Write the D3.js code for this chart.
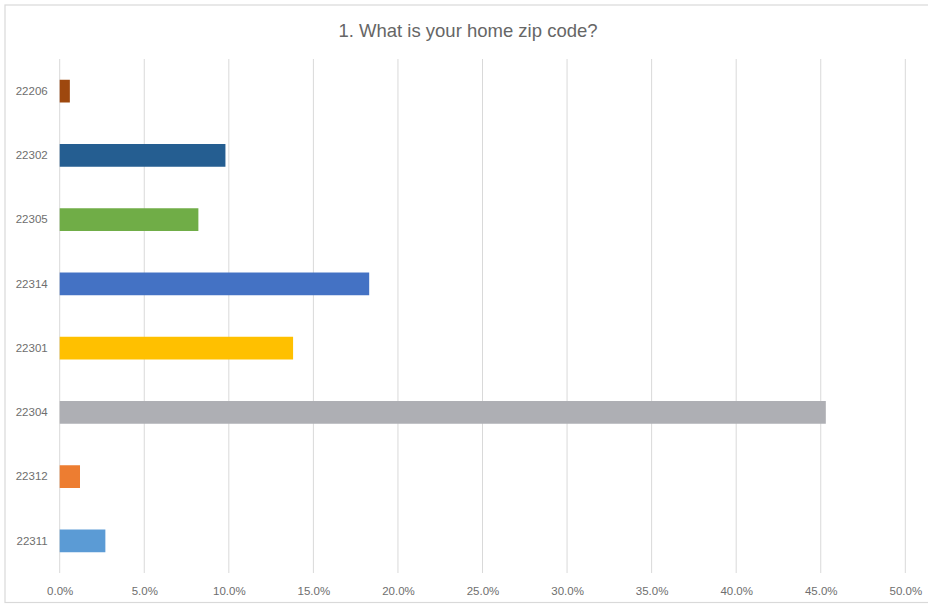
<!DOCTYPE html>
<html>
<head>
<meta charset="utf-8">
<script src="https://cdn.jsdelivr.net/npm/d3@7"></script>
<style>
  html, body { margin: 0; padding: 0; background: #fff; }
  svg { display: block; font-family: "Liberation Sans", Arial, sans-serif; }
</style>
</head>
<body>
<svg id="chart" width="928" height="608"></svg>
<script>
const title = "1. What is your home zip code?";
const zipCodes = ["22206", "22302", "22305", "22314", "22301", "22304", "22312", "22311"];
const shares = [0.006, 0.098, 0.082, 0.183, 0.138, 0.453, 0.012, 0.027];
const barColors = ["#9E480E", "#255E91", "#70AD47", "#4472C4", "#FFC000", "#AEAFB4", "#ED7D31", "#5B9BD5"];
const xTicks = [0, 0.05, 0.10, 0.15, 0.20, 0.25, 0.30, 0.35, 0.40, 0.45, 0.50];

(function () {
const svg = d3.select("#chart");
const W = 928, H = 608;
const pLeft = 59.7, pRight = 905.3, pTop = 59, pBottom = 573;

svg.append("rect")
  .attr("x", 5).attr("y", 5)
  .attr("width", W + 10).attr("height", H - 10 - 0.5)
  .attr("fill", "#fff").attr("stroke", "#D9D9D9").attr("stroke-width", 1.2);

svg.append("text")
  .attr("x", 468).attr("y", 37)
  .attr("text-anchor", "middle")
  .attr("fill", "#666666")
  .attr("font-size", 18.5)
  .text(title);

const x = d3.scaleLinear().domain([0, 0.5]).range([pLeft, pRight]);
const y = d3.scaleBand().domain(zipCodes).range([pTop, pBottom])
  .paddingInner(0.646).paddingOuter(0.323);

svg.append("g").selectAll("line").data(xTicks).join("line")
  .attr("x1", d => x(d)).attr("x2", d => x(d))
  .attr("y1", pTop).attr("y2", pBottom)
  .attr("stroke", "#D9D9D9").attr("stroke-width", 1);

const xAxis = d3.axisBottom(x).tickValues(xTicks).tickFormat(d3.format(".1%")).tickSize(0).tickPadding(0);
const gx = svg.append("g").attr("transform", `translate(0,${pBottom + 14})`).call(xAxis);
gx.select(".domain").remove();
gx.selectAll("text").attr("fill", "#6E6E6E").attr("font-size", 11.5)
  .attr("font-family", "Liberation Sans, Arial, sans-serif");

const yAxis = d3.axisLeft(y).tickSize(0).tickPadding(0);
const gy = svg.append("g").attr("transform", `translate(${pLeft - 12},0)`).call(yAxis);
gy.select(".domain").remove();
gy.selectAll("text").attr("fill", "#6E6E6E").attr("font-size", 11.5)
  .attr("font-family", "Liberation Sans, Arial, sans-serif");

svg.append("g").selectAll("rect").data(zipCodes).join("rect")
  .attr("x", x(0))
  .attr("y", d => y(d))
  .attr("width", (d, i) => x(shares[i]) - x(0))
  .attr("height", y.bandwidth())
  .attr("fill", (d, i) => barColors[i]);
})();
</script>
</body>
</html>
